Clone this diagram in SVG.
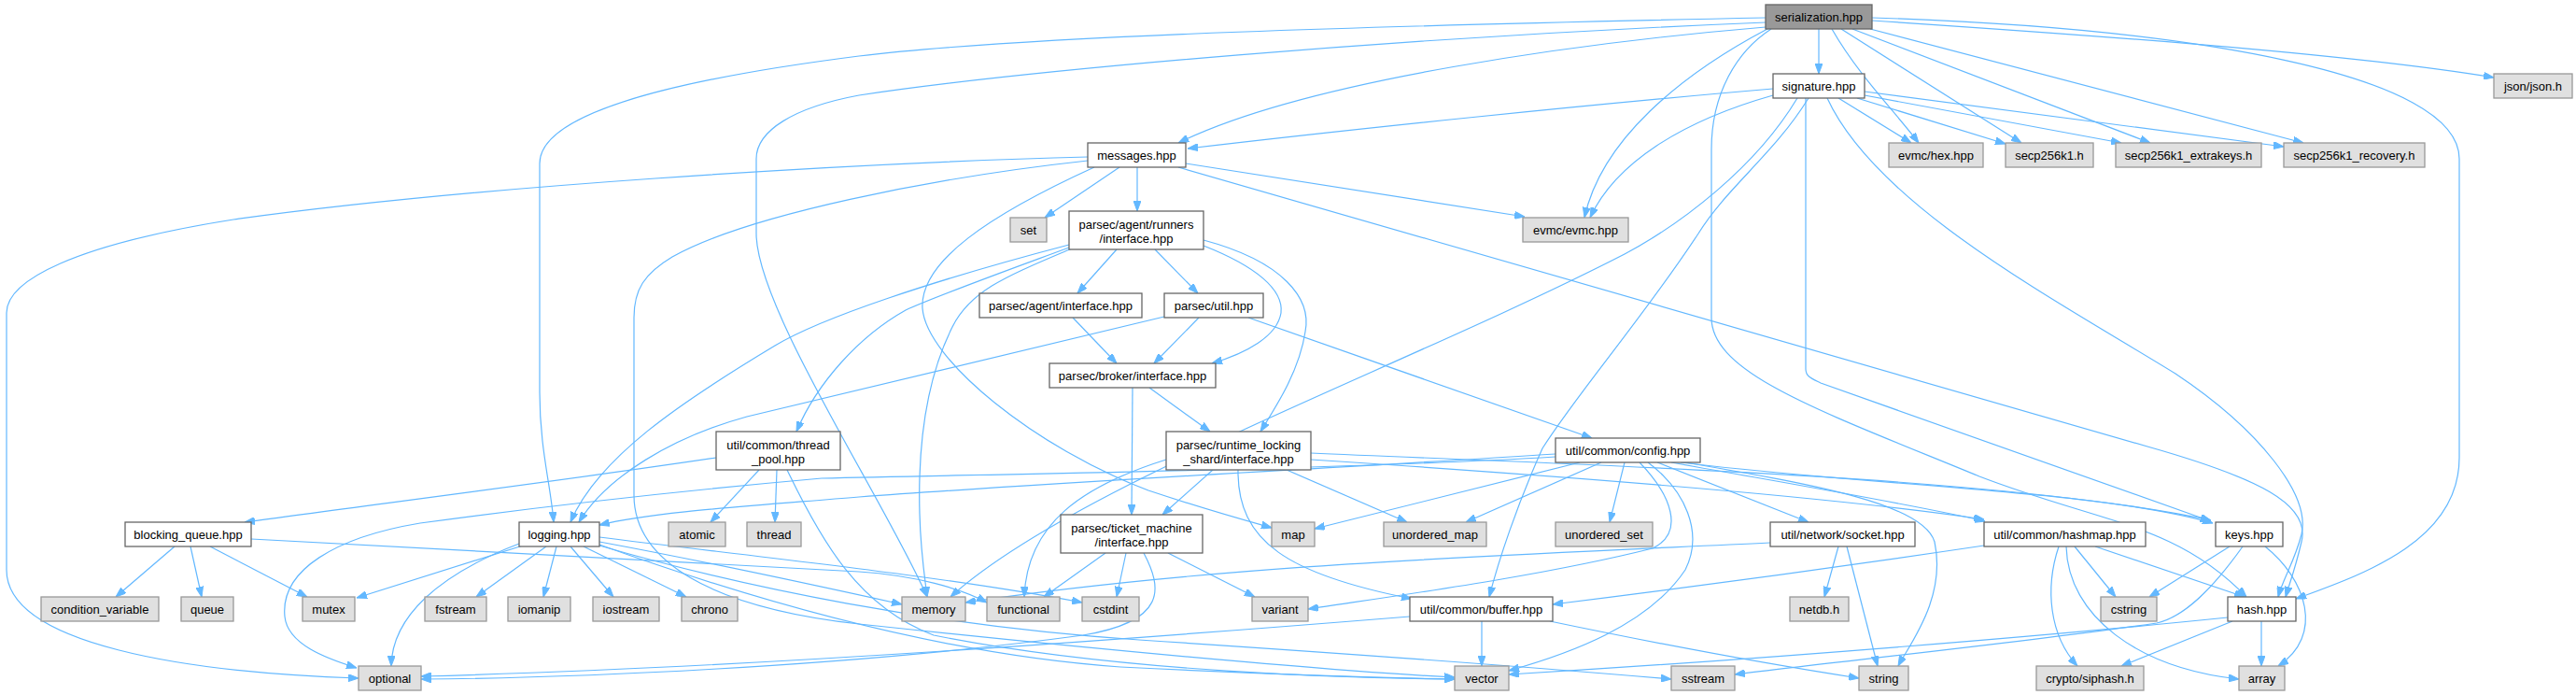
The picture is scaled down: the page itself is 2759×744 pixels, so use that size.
<svg xmlns="http://www.w3.org/2000/svg" width="2759" height="744" viewBox="0 0 2759 744">
<style>
.n rect{fill:#fff;stroke:#666;stroke-width:1.3}
.x rect{fill:#e0e0e0;stroke:#999;stroke-width:1.3}
.c rect{fill:#999;stroke:#666;stroke-width:1.3}
text{font-family:"Liberation Sans",Arial,Helvetica,sans-serif;font-size:13px;fill:#000;text-anchor:middle}
#edges path{fill:none;stroke:#63b8ff;stroke-width:1.2;marker-end:url(#arr)}
</style>
<defs>
<marker id="arr" viewBox="0 0 11 8" refX="11" refY="4" markerWidth="11" markerHeight="8" markerUnits="userSpaceOnUse" orient="auto">
<path d="M0,0 L11,4 L0,8 z" fill="#63b8ff" stroke="#63b8ff"/>
</marker>
</defs>
<rect width="2759" height="744" fill="#fff"/>
<g id="edges">
<path d="M1948,31 L1948,79"/>
<path d="M1891,29 C1700,45 1400,85 1262,153"/>
<path d="M1891,19 C1500,27 1100,38 920,60 C700,88 578,125 578,175 L578,420 C578,480 590,520 593,559"/>
<path d="M1891,24 C1500,40 1100,75 920,102 C850,115 810,140 810,170 L810,250 C810,330 950,540 993,639"/>
<path d="M1893,31 C1800,80 1715,150 1697,233"/>
<path d="M1962,31 C1990,80 2030,120 2055,153"/>
<path d="M1972,31 L2165,153"/>
<path d="M1984,31 L2303,153"/>
<path d="M2003,31 L2467,153"/>
<path d="M2005,22 C2200,35 2500,55 2671,83"/>
<path d="M2005,19 C2350,30 2634,80 2634,170 L2634,490 C2634,580 2530,615 2459,641"/>
<path d="M1897,31 C1860,55 1833,100 1833,160 L1833,340 C1833,400 1950,440 2120,510 C2250,560 2330,560 2406,639"/>
<path d="M1899,95 C1700,112 1450,138 1272,159"/>
<path d="M1899,102 C1800,130 1730,175 1703,233"/>
<path d="M1925,105 C1880,180 1800,240 1740,272 C1500,395 1150,520 1018,639"/>
<path d="M1937,105 C1900,165 1850,200 1819,250 C1760,340 1690,420 1652,480 C1625,540 1605,600 1595,639"/>
<path d="M1934,105 L1934,395 C1934,403 1940,405 1950,410 L2368,558"/>
<path d="M1957,105 C2010,220 2200,320 2330,400 C2420,460 2475,530 2465,572 C2458,600 2445,620 2440,639"/>
<path d="M1969,105 L2047,153"/>
<path d="M1989,105 L2148,154"/>
<path d="M1997,102 L2272,153"/>
<path d="M1997,98 L2446,157"/>
<path d="M1199,179 L1119,233"/>
<path d="M1218,179 L1218,226"/>
<path d="M1270,175 L1633,232"/>
<path d="M1262,179 L2300,478 C2420,512 2475,540 2465,580 C2458,610 2452,625 2448,639"/>
<path d="M1165,168 C900,175 500,200 250,235 C80,262 7,300 7,335 L7,610 C7,690 200,720 384,726"/>
<path d="M1172,179 C1060,230 985,280 988,330 C992,385 1110,480 1230,525 C1290,545 1330,556 1362,565"/>
<path d="M1165,172 C1000,190 800,230 720,275 C690,293 679,310 679,340 L679,530 C679,600 760,650 920,668 C1200,698 1450,720 1558,725"/>
<path d="M1196,267 L1154,314"/>
<path d="M1237,267 L1283,314"/>
<path d="M1289,263 C1345,285 1375,310 1372,335 C1368,360 1335,378 1298,389"/>
<path d="M1289,257 C1375,280 1405,320 1398,355 C1392,395 1370,430 1350,462"/>
<path d="M1145,262 C1000,300 880,340 830,370 C730,430 640,490 611,559"/>
<path d="M1145,265 C1050,300 1000,318 970,332 C920,360 875,410 853,462"/>
<path d="M1148,266 C1080,295 1040,310 1020,350 C990,410 983,480 985,550 C986,590 990,615 993,639"/>
<path d="M1149,340 L1196,389"/>
<path d="M1284,340 L1236,389"/>
<path d="M1247,339 L800,446 C720,468 650,510 620,559"/>
<path d="M1337,340 L1705,469"/>
<path d="M1231,415 L1296,462"/>
<path d="M1213,415 L1212,551"/>
<path d="M1299,503 L1245,551"/>
<path d="M1249,492 C1160,520 1100,560 1097,639"/>
<path d="M1326,503 C1325,580 1380,615 1512,641"/>
<path d="M1378,503 L1507,559"/>
<path d="M1404,492 C1650,508 1950,530 2125,556"/>
<path d="M1404,485 C1700,498 2150,510 2368,557"/>
<path d="M1692,495 L1408,566"/>
<path d="M1715,495 L1570,559"/>
<path d="M1740,495 L1724,559"/>
<path d="M1756,495 C1790,530 1805,570 1770,587 C1650,617 1500,637 1401,652"/>
<path d="M1765,495 C1805,525 1825,570 1805,610 C1765,670 1680,700 1616,718"/>
<path d="M1666,486 C1450,500 1150,515 920,532 C800,542 700,548 642,562"/>
<path d="M1666,489 C1450,502 1100,507 880,512 C700,528 560,545 450,560 C360,575 300,610 305,660 C308,690 350,705 382,715"/>
<path d="M1775,495 L1937,559"/>
<path d="M1790,495 C1900,515 2050,540 2126,558"/>
<path d="M1800,495 C2000,520 2250,525 2370,560"/>
<path d="M1805,495 C1950,520 2060,540 2072,580 C2085,640 2045,690 2033,713"/>
<path d="M767,490 C600,515 400,540 262,559"/>
<path d="M813,503 L761,559"/>
<path d="M832,503 L830,559"/>
<path d="M843,503 C880,580 920,650 1000,680 C1200,720 1450,726 1558,727"/>
<path d="M187,585 L124,639"/>
<path d="M204,585 L216,639"/>
<path d="M225,585 L329,639"/>
<path d="M269,577 L920,612 C980,616 1030,630 1057,645"/>
<path d="M642,575 C800,595 1000,615 1159,645"/>
<path d="M560,584 L382,640"/>
<path d="M585,585 L510,639"/>
<path d="M596,585 L582,639"/>
<path d="M611,585 L657,639"/>
<path d="M625,585 L735,639"/>
<path d="M556,582 C470,615 420,660 419,713"/>
<path d="M642,580 C750,600 880,628 966,647"/>
<path d="M642,584 C800,630 1000,670 1220,685 C1450,700 1650,715 1790,727"/>
<path d="M642,583 C800,640 1000,700 1200,714 C1400,724 1500,726 1558,727"/>
<path d="M1184,592 L1118,639"/>
<path d="M1206,592 L1196,639"/>
<path d="M1251,592 L1344,639"/>
<path d="M1225,592 C1245,630 1250,665 1160,680 C900,715 600,726 451,727"/>
<path d="M1587,665 L1587,713"/>
<path d="M1510,660 C1200,685 800,715 451,724"/>
<path d="M1660,665 C1780,690 1900,712 1991,726"/>
<path d="M1896,581 C1600,595 1300,605 1034,645"/>
<path d="M1969,585 L1954,639"/>
<path d="M1978,585 L2011,713"/>
<path d="M2125,584 C1950,610 1800,630 1663,647"/>
<path d="M2222,585 L2266,639"/>
<path d="M2244,585 L2404,639"/>
<path d="M2205,585 C2190,630 2195,680 2225,713"/>
<path d="M2213,585 C2215,660 2290,715 2398,727"/>
<path d="M2388,585 L2302,639"/>
<path d="M2426,585 C2470,620 2490,680 2440,713"/>
<path d="M2402,585 C2370,630 2340,660 2310,667 C2150,690 1950,710 1858,722"/>
<path d="M2422,665 L2422,713"/>
<path d="M2391,665 L2272,713"/>
<path d="M2386,661 C2200,680 1900,705 1616,722"/>
</g>
<g id="n-serialization" class="c"><rect x="1891" y="5" width="114" height="26"/><text x="1948" y="22.5">serialization.hpp</text></g>
<g id="n-signature" class="n"><rect x="1899" y="79" width="98" height="26"/><text x="1948" y="96.5">signature.hpp</text></g>
<g id="n-messages" class="n"><rect x="1165" y="153" width="105" height="26"/><text x="1217.5" y="170.5">messages.hpp</text></g>
<g id="n-hex" class="x"><rect x="2023" y="153" width="101" height="26"/><text x="2073.5" y="170.5">evmc/hex.hpp</text></g>
<g id="n-secp" class="x"><rect x="2148" y="153" width="94" height="26"/><text x="2195" y="170.5">secp256k1.h</text></g>
<g id="n-extrakeys" class="x"><rect x="2266" y="153" width="156" height="26"/><text x="2344" y="170.5">secp256k1_extrakeys.h</text></g>
<g id="n-recovery" class="x"><rect x="2446" y="153" width="151" height="26"/><text x="2521.5" y="170.5">secp256k1_recovery.h</text></g>
<g id="n-json" class="x"><rect x="2671" y="79" width="84" height="26"/><text x="2713" y="96.5">json/json.h</text></g>
<g id="n-set" class="x"><rect x="1082" y="233" width="39" height="26"/><text x="1101.5" y="250.5">set</text></g>
<g id="n-runners" class="n"><rect x="1145" y="226" width="144" height="41"/><text x="1217" y="244.5">parsec/agent/runners</text><text x="1217" y="259.5">/interface.hpp</text></g>
<g id="n-evmc" class="x"><rect x="1631" y="233" width="113" height="26"/><text x="1687.5" y="250.5">evmc/evmc.hpp</text></g>
<g id="n-agent" class="n"><rect x="1049" y="314" width="174" height="26"/><text x="1136" y="331.5">parsec/agent/interface.hpp</text></g>
<g id="n-util" class="n"><rect x="1247" y="314" width="106" height="26"/><text x="1300" y="331.5">parsec/util.hpp</text></g>
<g id="n-broker" class="n"><rect x="1124" y="389" width="178" height="26"/><text x="1213" y="406.5">parsec/broker/interface.hpp</text></g>
<g id="n-threadpool" class="n"><rect x="767" y="462" width="133" height="41"/><text x="833.5" y="480.5">util/common/thread</text><text x="833.5" y="495.5">_pool.hpp</text></g>
<g id="n-rls" class="n"><rect x="1249" y="462" width="155" height="41"/><text x="1326.5" y="480.5">parsec/runtime_locking</text><text x="1326.5" y="495.5">_shard/interface.hpp</text></g>
<g id="n-config" class="n"><rect x="1666" y="469" width="155" height="26"/><text x="1743.5" y="486.5">util/common/config.hpp</text></g>
<g id="n-bq" class="n"><rect x="134" y="559" width="135" height="26"/><text x="201.5" y="576.5">blocking_queue.hpp</text></g>
<g id="n-logging" class="n"><rect x="556" y="559" width="86" height="26"/><text x="599" y="576.5">logging.hpp</text></g>
<g id="n-atomic" class="x"><rect x="716" y="559" width="61" height="26"/><text x="746.5" y="576.5">atomic</text></g>
<g id="n-thread" class="x"><rect x="800" y="559" width="58" height="26"/><text x="829" y="576.5">thread</text></g>
<g id="n-tm" class="n"><rect x="1136" y="551" width="152" height="41"/><text x="1212" y="569.5">parsec/ticket_machine</text><text x="1212" y="584.5">/interface.hpp</text></g>
<g id="n-map" class="x"><rect x="1362" y="559" width="46" height="26"/><text x="1385" y="576.5">map</text></g>
<g id="n-umap" class="x"><rect x="1482" y="559" width="110" height="26"/><text x="1537" y="576.5">unordered_map</text></g>
<g id="n-uset" class="x"><rect x="1666" y="559" width="104" height="26"/><text x="1718" y="576.5">unordered_set</text></g>
<g id="n-socket" class="n"><rect x="1896" y="559" width="155" height="26"/><text x="1973.5" y="576.5">util/network/socket.hpp</text></g>
<g id="n-hashmap" class="n"><rect x="2125" y="559" width="173" height="26"/><text x="2211.5" y="576.5">util/common/hashmap.hpp</text></g>
<g id="n-keys" class="n"><rect x="2373" y="559" width="72" height="26"/><text x="2409" y="576.5">keys.hpp</text></g>
<g id="n-cond" class="x"><rect x="44" y="639" width="126" height="26"/><text x="107" y="656.5">condition_variable</text></g>
<g id="n-queue" class="x"><rect x="194" y="639" width="56" height="26"/><text x="222" y="656.5">queue</text></g>
<g id="n-mutex" class="x"><rect x="324" y="639" width="56" height="26"/><text x="352" y="656.5">mutex</text></g>
<g id="n-fstream" class="x"><rect x="455" y="639" width="66" height="26"/><text x="488" y="656.5">fstream</text></g>
<g id="n-iomanip" class="x"><rect x="544" y="639" width="67" height="26"/><text x="577.5" y="656.5">iomanip</text></g>
<g id="n-iostream" class="x"><rect x="635" y="639" width="71" height="26"/><text x="670.5" y="656.5">iostream</text></g>
<g id="n-chrono" class="x"><rect x="730" y="639" width="60" height="26"/><text x="760" y="656.5">chrono</text></g>
<g id="n-memory" class="x"><rect x="966" y="639" width="68" height="26"/><text x="1000" y="656.5">memory</text></g>
<g id="n-functional" class="x"><rect x="1057" y="639" width="78" height="26"/><text x="1096" y="656.5">functional</text></g>
<g id="n-cstdint" class="x"><rect x="1159" y="639" width="61" height="26"/><text x="1189.5" y="656.5">cstdint</text></g>
<g id="n-variant" class="x"><rect x="1341" y="639" width="60" height="26"/><text x="1371" y="656.5">variant</text></g>
<g id="n-buffer" class="n"><rect x="1510" y="639" width="153" height="26"/><text x="1586.5" y="656.5">util/common/buffer.hpp</text></g>
<g id="n-netdb" class="x"><rect x="1917" y="639" width="63" height="26"/><text x="1948.5" y="656.5">netdb.h</text></g>
<g id="n-cstring" class="x"><rect x="2250" y="639" width="60" height="26"/><text x="2280" y="656.5">cstring</text></g>
<g id="n-hash" class="n"><rect x="2386" y="639" width="73" height="26"/><text x="2422.5" y="656.5">hash.hpp</text></g>
<g id="n-optional" class="x"><rect x="384" y="713" width="67" height="26"/><text x="417.5" y="730.5">optional</text></g>
<g id="n-vector" class="x"><rect x="1558" y="713" width="58" height="26"/><text x="1587" y="730.5">vector</text></g>
<g id="n-sstream" class="x"><rect x="1790" y="713" width="68" height="26"/><text x="1824" y="730.5">sstream</text></g>
<g id="n-string" class="x"><rect x="1991" y="713" width="53" height="26"/><text x="2017.5" y="730.5">string</text></g>
<g id="n-siphash" class="x"><rect x="2181" y="713" width="115" height="26"/><text x="2238.5" y="730.5">crypto/siphash.h</text></g>
<g id="n-array" class="x"><rect x="2398" y="713" width="49" height="26"/><text x="2422.5" y="730.5">array</text></g>
</svg>
